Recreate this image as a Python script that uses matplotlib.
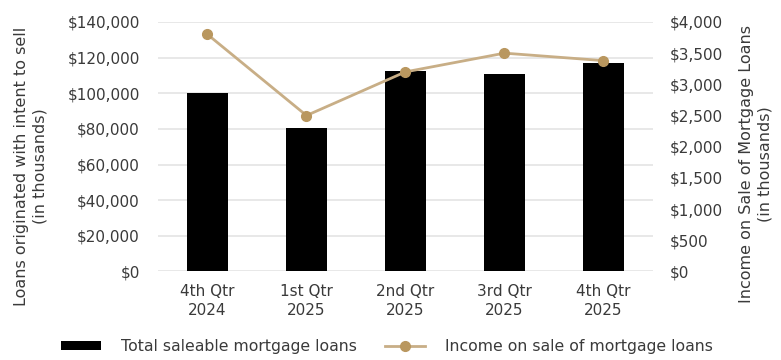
import matplotlib

matplotlib.use("Agg")
import matplotlib.pyplot as plt
from matplotlib.lines import Line2D
from matplotlib.patches import Patch
from matplotlib.ticker import FuncFormatter

quarters = ["4th Qtr\n2024", "1st Qtr\n2025", "2nd Qtr\n2025", "3rd Qtr\n2025", "4th Qtr\n2025"]
saleable_loans = [100000, 80500, 112300, 111000, 117000]
sale_income = [3800, 2500, 3200, 3500, 3380]

BAR_COLOR = "#000000"
LINE_COLOR = "#C8AE86"
MARKER_COLOR = "#B9975F"
TEXT_COLOR = "#3a3a3a"
GRID_COLOR = "#e4e4e4"

plt.rcParams["font.family"] = ["DejaVu Sans"]

fig = plt.figure(figsize=(7.81, 3.6), dpi=100)
ax = fig.add_axes([0.2023, 0.246, 0.6338, 0.693])
ax2 = ax.twinx()

x = list(range(len(quarters)))
ax.bar(x, saleable_loans, width=0.41, color=BAR_COLOR, zorder=2)
ax2.plot(x, sale_income, color=LINE_COLOR, lw=2, marker="o", ms=7,
         mfc=MARKER_COLOR, mec=MARKER_COLOR, zorder=3)

ax.set_xlim(-0.5, len(quarters) - 0.5)
ax.set_ylim(0, 140000)
ax.set_yticks(range(0, 140001, 20000))
ax2.set_ylim(0, 4000)
ax2.set_yticks(range(0, 4001, 500))

money = FuncFormatter(lambda v, _: f"${v:,.0f}")
ax.yaxis.set_major_formatter(money)
ax2.yaxis.set_major_formatter(money)

ax.set_xticks(x)
ax.set_xticklabels(quarters, linespacing=1.3)
ax.yaxis.grid(True, color=GRID_COLOR, lw=1.2, zorder=0)
ax.set_axisbelow(True)

for a in (ax, ax2):
    for s in a.spines.values():
        s.set_visible(False)
    a.tick_params(length=0, labelsize=11, labelcolor=TEXT_COLOR)
ax.tick_params(axis="x", pad=9)
ax.tick_params(axis="y", pad=13)
ax2.tick_params(axis="y", pad=12)

# axis titles sit a little below the plot centre, so place them directly
fig.text(31 / 781, 1 - 166 / 360, "Loans originated with intent to sell\n(in thousands)",
         rotation=90, ha="center", va="center", fontsize=11.5, color=TEXT_COLOR,
         linespacing=1.25)
fig.text(756 / 781, 1 - 164 / 360, "Income on Sale of Mortgage Loans\n(in thousands)",
         rotation=90, ha="center", va="center", fontsize=11.5, color=TEXT_COLOR,
         linespacing=1.25)

handles = [
    Patch(facecolor=BAR_COLOR, label="Total saleable mortgage loans"),
    Line2D([], [], color=LINE_COLOR, lw=2, marker="o", ms=7,
           mfc=MARKER_COLOR, mec=MARKER_COLOR, label="Income on sale of mortgage loans"),
]
fig.legend(handles=handles, loc="center", bbox_to_anchor=(387 / 781, 1 - 347 / 360), ncol=2,
           frameon=False, fontsize=11.3, labelcolor=TEXT_COLOR, handlelength=2.55,
           handleheight=0.5, columnspacing=1.8, handletextpad=1.27, borderpad=0)

fig.savefig("out.png", dpi=100)
